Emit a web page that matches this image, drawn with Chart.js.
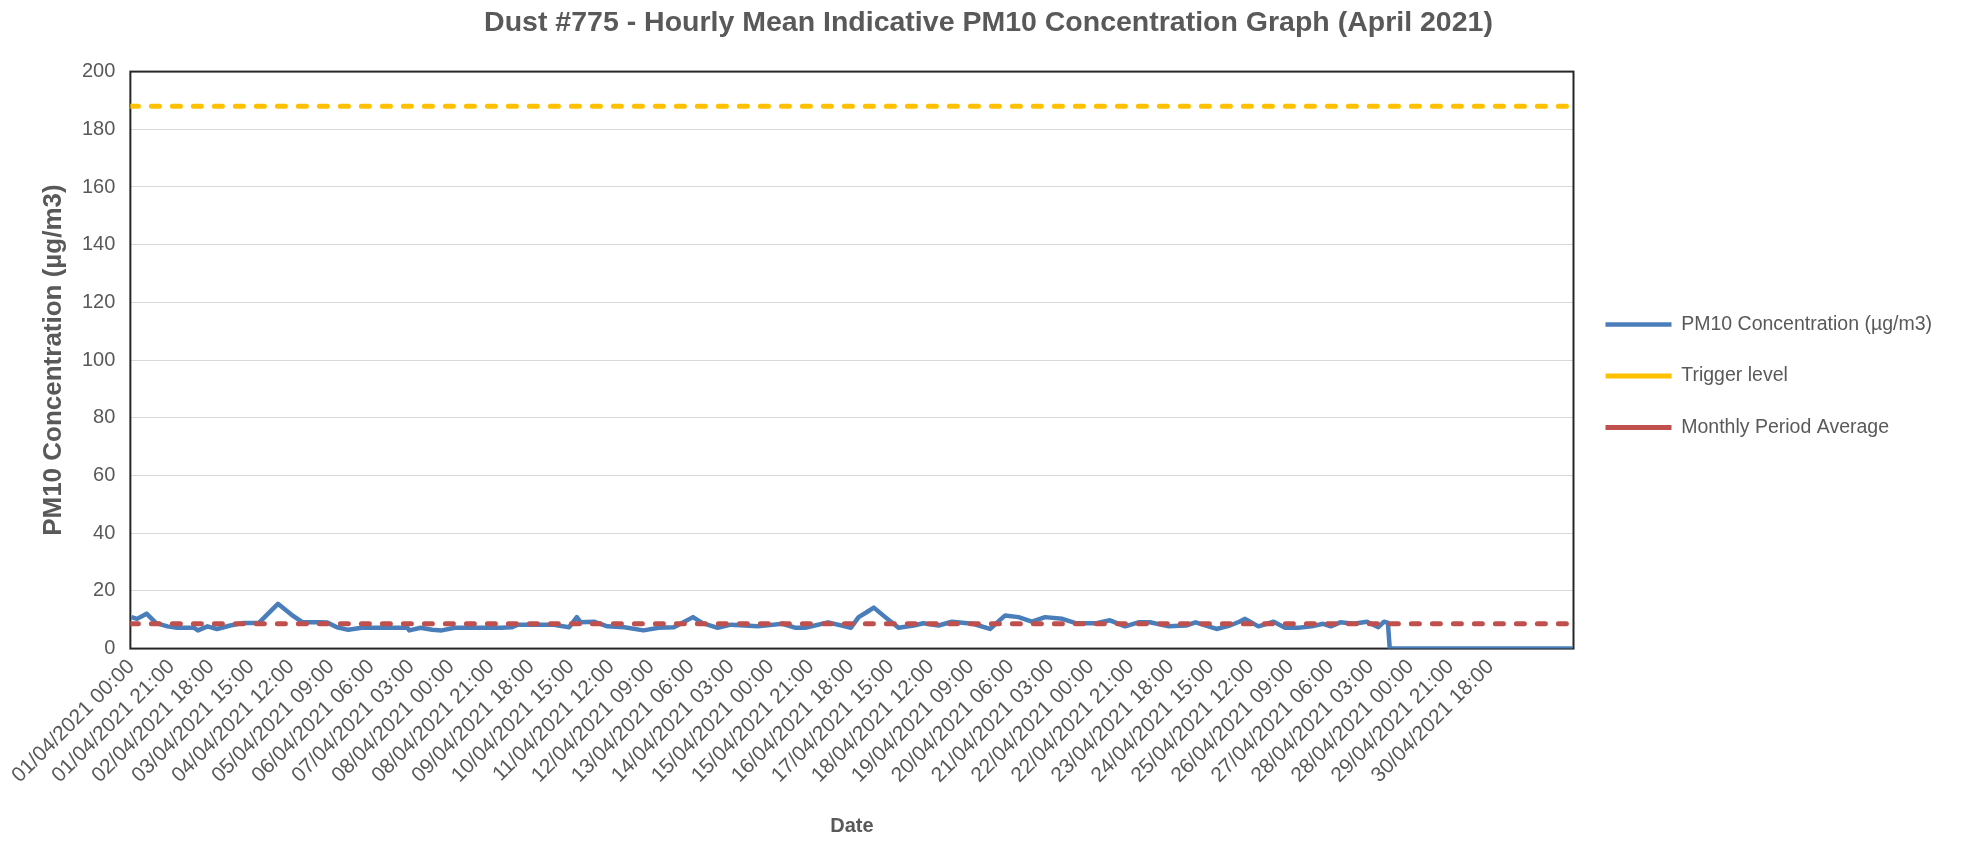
<!DOCTYPE html>
<html lang="en">
<head>
<meta charset="UTF-8">
<title>Dust #775 - Hourly Mean PM10</title>
<script src="https://cdn.jsdelivr.net/npm/chart.js@4"></script>
<style>
  html, body { margin: 0; padding: 0; background: #fff; }
  canvas { display: block; }
</style>
</head>
<body>
<canvas id="dustChart" width="1977" height="841"></canvas>
<script>
// x axis labels, one every 21 hours
const tickLabels = [
  '01/04/2021 00:00', '01/04/2021 21:00', '02/04/2021 18:00', '03/04/2021 15:00',
  '04/04/2021 12:00', '05/04/2021 09:00', '06/04/2021 06:00', '07/04/2021 03:00',
  '08/04/2021 00:00', '08/04/2021 21:00', '09/04/2021 18:00', '10/04/2021 15:00',
  '11/04/2021 12:00', '12/04/2021 09:00', '13/04/2021 06:00', '14/04/2021 03:00',
  '15/04/2021 00:00', '15/04/2021 21:00', '16/04/2021 18:00', '17/04/2021 15:00',
  '18/04/2021 12:00', '19/04/2021 09:00', '20/04/2021 06:00', '21/04/2021 03:00',
  '22/04/2021 00:00', '22/04/2021 21:00', '23/04/2021 18:00', '24/04/2021 15:00',
  '25/04/2021 12:00', '26/04/2021 09:00', '27/04/2021 06:00', '28/04/2021 03:00',
  '28/04/2021 00:00', '29/04/2021 21:00', '30/04/2021 18:00'
];
const TICK_STEP = 21;

// hours since 01/04/2021 00:00 and PM10 readings (ug/m3)
const pmHours = [
  0, 3, 8, 13, 19, 24, 33, 35, 40, 45, 52, 59, 67, 77, 84, 90, 99, 103, 108, 114,
  121, 145, 146, 152, 158, 163, 170, 194, 200, 203, 221, 230, 234, 236, 243, 250,
  259, 269, 277, 285, 289, 295, 300, 308, 315, 329, 342, 349, 354, 366, 378, 382,
  386, 390, 396, 403, 411, 416, 424, 431, 442, 451, 459, 466, 473, 480, 489, 496,
  507, 514, 522, 529, 535, 545, 554, 559, 570, 577, 582, 585, 592, 600, 606, 613,
  620, 626, 630, 635, 642, 649, 655, 658, 660, 661, 757
];
const pmValues = [
  10.9, 10.3, 12.1, 8.8, 7.7, 7.2, 7.2, 6.3, 7.7, 6.8, 8.0, 8.9, 8.9, 15.5, 11.8, 9.1, 9.1, 9.0, 7.4, 6.5,
  7.2, 7.2, 6.3, 7.2, 6.5, 6.3, 7.2, 7.2, 7.4, 8.3, 8.3, 7.4, 10.9, 9.1, 9.3, 7.7,
  7.4, 6.3, 7.2, 7.4, 8.8, 10.9, 8.8, 7.2, 8.3, 7.7, 8.6, 7.2, 7.2, 9.1, 7.2, 10.9,
  12.5, 14.2, 10.9, 7.2, 8.0, 8.8, 8.0, 9.3, 8.6, 6.8, 11.5, 10.9, 9.3, 10.9, 10.3, 8.8,
  8.8, 9.8, 7.7, 9.1, 9.1, 7.7, 8.0, 9.1, 6.8, 8.0, 9.3, 10.3, 7.7, 9.3, 7.2, 7.2,
  7.7, 8.6, 7.7, 9.1, 8.6, 9.3, 7.4, 9.3, 9.0, 0, 0
];

const triggerLevel = 188;
const monthlyAverage = 8.6;
const xStart = -0.5;
const xEnd = 757.5;

const textGrey = '#595959';
Chart.defaults.font.family = '"Liberation Sans", Arial, sans-serif';
Chart.defaults.color = textGrey;

// Excel style frame round the plot area, drawn under the lines
const plotFrame = {
  id: 'plotFrame',
  beforeDatasetsDraw(chart) {
    const { ctx, chartArea: a } = chart;
    ctx.save();
    ctx.strokeStyle = '#262626';
    ctx.lineWidth = 2;
    ctx.strokeRect(a.left, a.top, a.right - a.left, a.bottom - a.top);
    ctx.restore();
  }
};

const pmPoints = pmHours.map((h, i) => ({ x: h, y: pmValues[i] }));

new Chart(document.getElementById('dustChart'), {
  type: 'line',
  data: {
    datasets: [
      {
        label: 'PM10 Concentration (µg/m3)',
        data: pmPoints,
        borderColor: '#4A7EBB',
        backgroundColor: '#4A7EBB',
        borderWidth: 4.5,
        borderJoinStyle: 'round',
        pointRadius: 0,
        order: 3
      },
      {
        label: 'Trigger level',
        data: [{ x: xStart, y: triggerLevel }, { x: xEnd, y: triggerLevel }],
        borderColor: '#FFC000',
        backgroundColor: '#FFC000',
        borderWidth: 5,
        borderDash: [8, 13],
        borderCapStyle: 'round',
        pointRadius: 0,
        order: 2
      },
      {
        label: 'Monthly Period Average',
        data: [{ x: xStart, y: monthlyAverage }, { x: xEnd, y: monthlyAverage }],
        borderColor: '#C0504D',
        backgroundColor: '#C0504D',
        borderWidth: 5,
        borderDash: [8, 13],
        borderCapStyle: 'round',
        pointRadius: 0,
        order: 1
      }
    ]
  },
  options: {
    responsive: false,
    animation: false,
    layout: { padding: { left: 35, right: 35, top: 0, bottom: 0 } },
    scales: {
      x: {
        type: 'linear',
        min: xStart,
        max: xEnd,
        afterBuildTicks: axis => {
          axis.ticks = tickLabels.map((_, i) => ({ value: i * TICK_STEP }));
        },
        // let the first slanted label run out past the plot edge, like Excel
        afterFit: axis => { axis.paddingLeft = 0; },
        ticks: {
          autoSkip: false,
          minRotation: 45,
          maxRotation: 45,
          padding: 6,
          color: textGrey,
          font: { size: 21 },
          callback: (value, index) => tickLabels[index]
        },
        grid: { display: false, drawTicks: false },
        border: { display: false },
        title: {
          display: true,
          text: 'Date',
          color: textGrey,
          font: { size: 20, weight: 'bold' },
          padding: { top: 20, bottom: 3 }
        }
      },
      y: {
        min: 0,
        max: 200,
        ticks: { stepSize: 20, padding: 15, color: textGrey, font: { size: 20 } },
        grid: { color: '#d9d9d9', lineWidth: 1, drawTicks: false },
        border: { display: false },
        title: {
          display: true,
          text: 'PM10 Concentration (µg/m3)',
          color: textGrey,
          font: { size: 26, weight: 'bold', lineHeight: 1 },
          padding: { top: 6, bottom: 0 }
        }
      }
    },
    plugins: {
      title: {
        display: true,
        text: 'Dust #775 - Hourly Mean Indicative PM10 Concentration Graph (April 2021)',
        color: textGrey,
        font: { size: 28.5, weight: 'bold' },
        padding: { top: 6, bottom: 31.4 }
      },
      legend: {
        position: 'right',
        align: 'center',
        fullSize: false,
        title: { display: true, text: ' ', font: { size: 20 }, padding: 4 },
        labels: {
          usePointStyle: true,
          pointStyle: 'line',
          pointStyleWidth: 66,
          padding: 32,
          color: textGrey,
          font: { size: 19.5 },
          sort: (a, b) => a.datasetIndex - b.datasetIndex
        }
      },
      tooltip: { enabled: false }
    }
  },
  plugins: [plotFrame]
});
</script>
</body>
</html>
